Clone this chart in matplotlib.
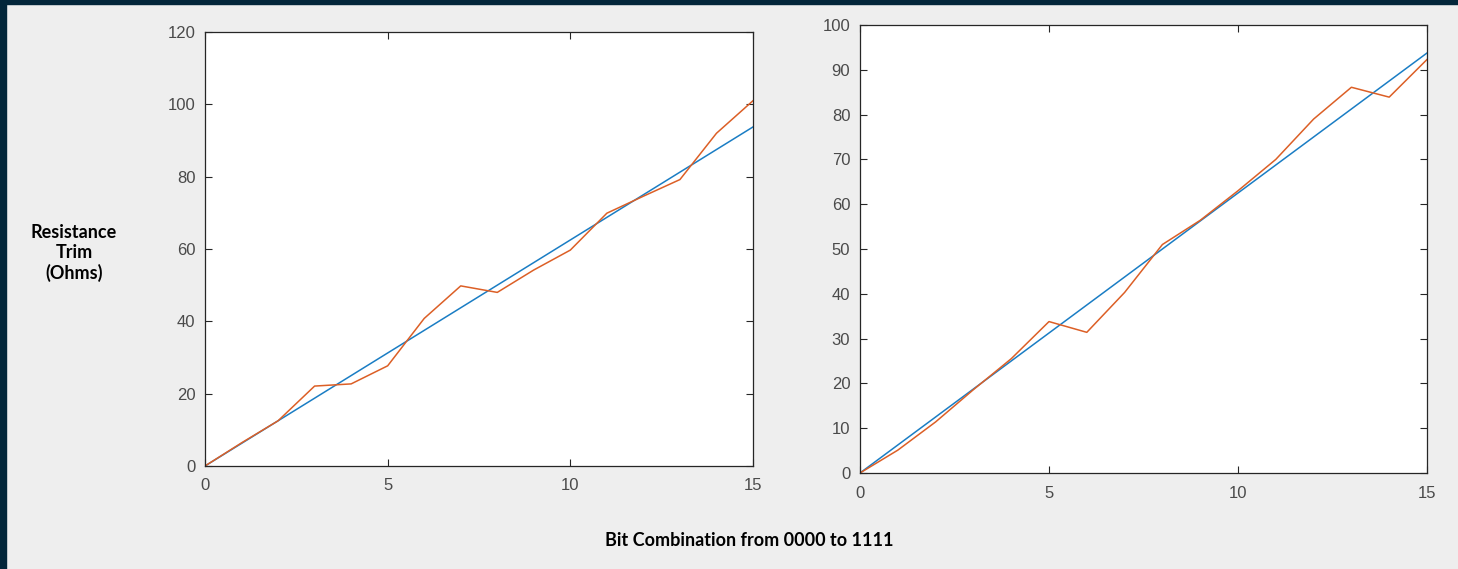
import matplotlib
matplotlib.use('Agg')
import matplotlib.pyplot as plt
from matplotlib.patches import Rectangle
import numpy as np

bits = np.arange(16)
ideal = [6.25 * b for b in bits]  # ideal line: 0 .. 93.75
meas_left = [0, 6.4, 12.5, 22.1, 22.7, 27.7, 40.8, 49.8, 48.0, 54.2, 59.7,
             69.9, 74.6, 79.2, 92.0, 101.0]
meas_right = [0, 5.1, 11.4, 18.6, 25.5, 33.8, 31.4, 40.3, 51.0, 56.4, 63.0,
              70.0, 79.0, 86.1, 83.9, 92.3]
xticks = [0, 5, 10, 15]
yticks_left = list(range(0, 121, 20))
yticks_right = list(range(0, 101, 10))

BLUE = '#1a7dc4'
ORANGE = '#dc5f26'
TICK = '#4a4a4a'

W, H = 1458, 569
fig = plt.figure(figsize=(W / 100, H / 100), dpi=100)
fig.patch.set_facecolor('#eeeeee')

# dark frame on the left and top
fig.add_artist(Rectangle((0, 0), 6 / W, 1, transform=fig.transFigure,
                         color='#03263a', zorder=0))
fig.add_artist(Rectangle((0, 1 - 4 / H), 1, 4 / H, transform=fig.transFigure,
                         color='#03263a', zorder=0))


def add_axes(x0, y0, x1, y1):
    return fig.add_axes([x0 / W, 1 - y1 / H, (x1 - x0) / W, (y1 - y0) / H])


def style(ax, ylim, yticks):
    ax.set_xlim(0, 15)
    ax.set_ylim(*ylim)
    ax.set_xticks(xticks)
    ax.set_yticks(yticks)
    ax.tick_params(direction='in', top=True, right=True, length=5, width=0.8,
                   colors='#262626', labelcolor=TICK, labelsize=12)
    ax.tick_params(axis='x', pad=9)
    ax.tick_params(axis='y', pad=7)
    for lab in ax.get_xticklabels() + ax.get_yticklabels():
        lab.set_fontfamily('Liberation Sans')
    for s in ax.spines.values():
        s.set_color('#262626')
        s.set_linewidth(0.9)
    ax.set_facecolor('white')


ax1 = add_axes(205, 32, 753, 466)
ax1.plot(bits, ideal, color=BLUE, lw=1.1)
ax1.plot(bits, meas_left, color=ORANGE, lw=1.1)
style(ax1, (0, 120), yticks_left)

ax2 = add_axes(860, 25, 1427, 473)
ax2.plot(bits, ideal, color=BLUE, lw=1.1)
ax2.plot(bits, meas_right, color=ORANGE, lw=1.1)
style(ax2, (0, 100), yticks_right)

fig.text(74 / W, 1 - 253 / H, 'Resistance\nTrim\n(Ohms)', ha='center', va='center',
         fontsize=13, fontweight='bold', family='Lato', linespacing=1.2)
fig.text(749 / W, 1 - 540 / H, 'Bit Combination from 0000 to 1111', ha='center',
         va='center', fontsize=13, fontweight='bold', family='Lato')

fig.savefig('out.png', dpi=100, facecolor=fig.get_facecolor())
